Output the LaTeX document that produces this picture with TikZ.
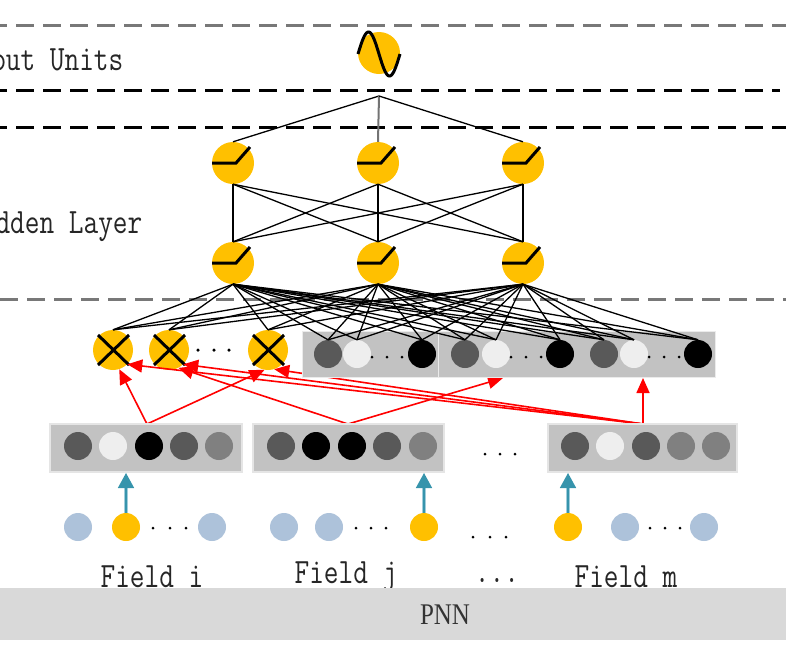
\documentclass[tikz,border=0pt]{standalone}
\usepackage{fontspec}
\usepackage{graphicx}
\usetikzlibrary{arrows.meta}
\newfontfamily\pnnfont{Liberation Serif}
\definecolor{unitgold}{RGB}{255,192,0}
\definecolor{boxgray}{RGB}{194,194,194}
\definecolor{bandgray}{RGB}{217,217,217}
\definecolor{darkunit}{RGB}{89,89,89}
\definecolor{midunit}{RGB}{128,128,128}
\definecolor{lightunit}{RGB}{238,238,238}
\definecolor{fieldblue}{RGB}{173,194,218}
\definecolor{arrowteal}{RGB}{54,148,172}
\definecolor{shaftblue}{RGB}{160,205,220}
\definecolor{dashgray}{RGB}{120,120,120}
\newcommand{\talltext}[1]{\scalebox{1}[1.25]{#1}}

\tikzset{
  unit/.style={circle,fill=unitgold,inner sep=0pt,minimum size=42pt},
  produnit/.style={circle,fill=unitgold,inner sep=0pt,minimum size=40pt},
  embunit/.style={circle,inner sep=0pt,minimum size=28pt},
  fieldunit/.style={circle,fill=fieldblue,inner sep=0pt,minimum size=28pt},
  hotunit/.style={circle,fill=unitgold,inner sep=0pt,minimum size=28pt},
  embbox/.style={rectangle,fill=boxgray,draw=black!10,line width=2pt,inner sep=0pt,minimum height=48pt},
  dotpt/.style={circle,fill=black,inner sep=0pt,minimum size=3.5pt},
  layerline/.style={line width=3pt,dash pattern=on 18pt off 9pt},
  wire/.style={black,line width=1.3pt},
  glyph/.style={black,line width=3pt},
  redarrow/.style={red,line width=1.6pt,-{Triangle[width=13pt,length=15pt]}},
  bluearrow/.style={arrowteal,line width=1.6pt,-{Triangle[width=16pt,length=15pt]},
    preaction={draw=shaftblue,line width=4.5pt,-,shorten >=8pt}},
  labeltext/.style={font=\ttfamily\fontsize{28.5}{28.5}\selectfont,text=black!85,inner sep=0pt}
}

\begin{document}
\begin{tikzpicture}[x=1pt,y=-1pt]
\useasboundingbox (0,0) rectangle (786,646);
\clip (0,0) rectangle (786,646);

% layer borders
\draw[layerline,dashgray,dash phase=11pt] (0,25) -- (786,25);
\draw[layerline,dash phase=11pt] (0,90) -- (780,90);
\draw[layerline,dash phase=11pt] (0,127) -- (786,127);
\draw[layerline,dashgray] (0,299) -- (786,299);

\node[labeltext,anchor=base west] (outlabel) at (-53,70) {\talltext{Output Units}};
\node[labeltext,anchor=base west] (hidlabel) at (-34,233) {\talltext{Hidden Layer}};

% output unit
\node[unit] (out) at (379,53) {};
\draw[glyph] plot[domain=358:400,samples=40,smooth] (\x,{54-22*sin(180*(\x-358)/21)});
\coordinate (outjoin) at (379,96);

% hidden layer
\foreach \x [count=\k] in {233,378,523} {
  \node[unit] (h1\k) at (\x,163) {};
  \node[unit] (h2\k) at (\x,263) {};
}
\foreach \n in {h11,h12,h13,h21,h22,h23}
  \draw[glyph] (\n.center) +(-21,0) -- +(3,0) -- +(17,-16);
\draw[wire] (outjoin) -- (h11.north);
\draw[wire,black!55,line width=2pt] (outjoin) -- (h12.north);
\draw[wire] (outjoin) -- (h13.north);
\foreach \a in {1,2,3}
  \foreach \b in {1,2,3}
    \draw[wire] (h1\a.south) -- (h2\b.north);

% product layer
\node[produnit] (p1) at (113,350) {};
\node[produnit] (p2) at (169,350) {};
\node[produnit] (p3) at (268,350) {};
\foreach \n in {p1,p2,p3}
  \draw[glyph] (\n.center) +(-15,-15) -- +(16,15) +(16,-15) -- +(-15,15);
\foreach \x in {198,214,229} \node[dotpt] at (\x,350) {};

% red links (under the product boxes)
\coordinate (ai) at (147,424);
\coordinate (aj) at (348,424);
\coordinate (am) at (643,424);
\coordinate (tj) at (503,378);
\draw[redarrow] (ai) -- (p1.-72);
\draw[redarrow] (ai) -- (p3.-100);
\draw[redarrow] (aj) -- (p2.-62);
\draw[redarrow] (aj) -- (tj);
\draw[redarrow] (am) -- (am |- 0,378);
\draw[redarrow] (am) -- (p1.-45);
\draw[redarrow] (am) -- (p2.-45);
\draw[redarrow] (am) -- (p3.-72);

\node[embbox,draw=black!8,line width=1pt,minimum width=136pt,minimum height=46pt] (lin1) at (370,354) {};
\node[embbox,draw=black!8,line width=1pt,minimum width=277pt,minimum height=46pt] (lin2) at (576.5,354) {};
\foreach \x/\c [count=\k] in {328/darkunit,357/lightunit,422/black,465/darkunit,496/lightunit,560/black,604/darkunit,634/lightunit,698/black}
  \node[embunit,fill=\c] (l\k) at (\x,354) {};
\foreach \x in {372,387,402,511,526,541,649,664,679} \node[dotpt,minimum size=3pt] at (\x,357) {};
\foreach \k in {1,2,3} {
  \foreach \t in {p1,p2,p3} \draw[wire] (h2\k.south) -- (\t.north);
  \foreach \j in {1,...,9} \draw[wire] (h2\k.south) -- (l\j.north);
}

% embedding layer
\node[embbox,minimum width=192pt] (embi) at (146,448) {};
\node[embbox,minimum width=191pt] (embj) at (348.5,448) {};
\node[embbox,minimum width=189pt] (embm) at (642.5,448) {};
\foreach \x/\c [count=\k] in {78/darkunit,113/lightunit,149/black,184/darkunit,219/midunit}
  \node[embunit,fill=\c] (ei\k) at (\x,446) {};
\foreach \x/\c [count=\k] in {281/darkunit,316/black,352/black,387/darkunit,423/midunit}
  \node[embunit,fill=\c] (ej\k) at (\x,446) {};
\foreach \x/\c [count=\k] in {575/darkunit,610/lightunit,646/darkunit,681/midunit,716/midunit}
  \node[embunit,fill=\c] (em\k) at (\x,446) {};
\foreach \x in {485,500,515} \node[dotpt,minimum size=3pt] at (\x,454) {};

% input fields
\node[fieldunit] (xi1) at (78,527) {};
\node[hotunit] (xi2) at (126,527) {};
\node[fieldunit] (xi3) at (212,527) {};
\node[fieldunit] (xj1) at (284,527) {};
\node[fieldunit] (xj2) at (329,527) {};
\node[hotunit] (xj3) at (424,527) {};
\node[hotunit] (xm1) at (568,527) {};
\node[fieldunit] (xm2) at (625,527) {};
\node[fieldunit] (xm3) at (704,527) {};
\foreach \x in {153,170,186,356,371,386,650,665,680} \node[dotpt,minimum size=3pt] at (\x,528) {};
\foreach \x in {473,490,506} \node[dotpt,minimum size=3pt] at (\x,537) {};
\draw[bluearrow] (xi2.north) -- (xi2.north |- embi.south);
\draw[bluearrow] (xj3.north) -- (xj3.north |- embj.south);
\draw[bluearrow] (xm1.north) -- (xm1.north |- embm.south);

\node[labeltext,anchor=base] (fieldi) at (152,587) {\talltext{Field i}};
\node[labeltext,anchor=base] (fieldj) at (346,583) {\talltext{Field j}};
\node[labeltext,anchor=base] (fielddots) at (497,582) {\talltext{...}};
\node[labeltext,anchor=base] (fieldm) at (626,587) {\talltext{Field m}};

% model band
\fill[bandgray] (0,588) rectangle (786,640);
\node[font=\pnnfont\fontsize{25}{25}\selectfont,text=black!80,inner sep=0pt] (pnn) at (445,615) {\scalebox{1}[1.2]{PNN}};
\end{tikzpicture}
\end{document}
